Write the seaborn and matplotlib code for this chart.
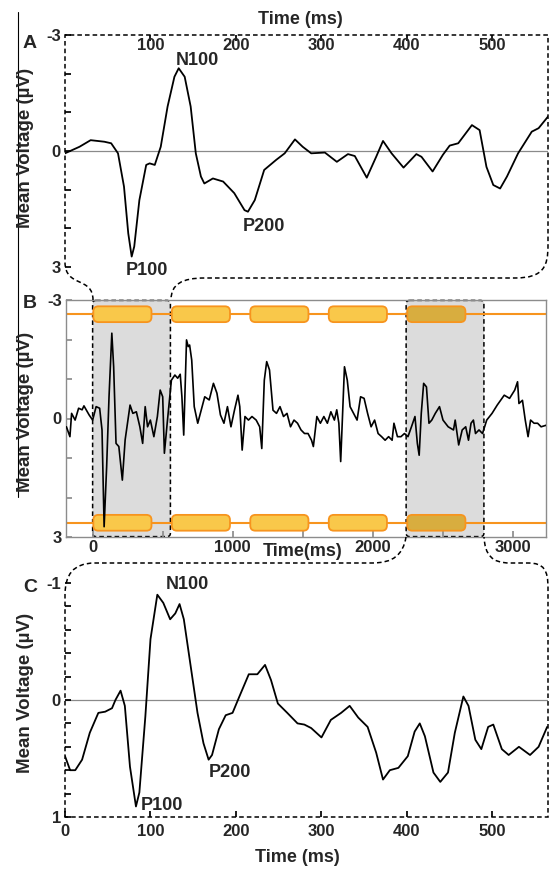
import matplotlib
matplotlib.use("Agg")
import numpy as np
import matplotlib.pyplot as plt
import seaborn as sns
from matplotlib.path import Path
from matplotlib.patches import PathPatch, FancyBboxPatch
from matplotlib.lines import Line2D

# panel A: averaged ERP, first stimulus window (ms, uV)
a_time = [0, 17, 30, 46, 54, 62, 69, 74, 78, 81, 87, 95, 99, 105, 112, 120, 128, 133, 140, 147,
          153, 159, 163, 173, 185, 198, 210, 214, 222, 233, 247, 257, 269, 278, 288, 304, 318, 331, 339, 353,
          364, 372, 382, 396, 411, 417, 430, 442, 450, 460, 476, 485, 493, 501, 509, 517, 530, 546, 554, 565]
a_volt = [0.06, -0.11, -0.28, -0.24, -0.2, 0.06, 0.92, 2.13, 2.73, 2.47, 1.27, 0.36, 0.32, 0.36, -0.11,
          -1.15, -1.92, -2.14, -1.92, -1.15, 0.06, 0.66, 0.84, 0.71, 0.79, 1.09, 1.53, 1.57, 1.27, 0.49,
          0.23, 0.06, -0.3, -0.11, 0.06, 0.04, 0.28, 0.08, 0.13, 0.69, 0.15, -0.26, 0.06, 0.43, 0.08,
          0.15, 0.53, 0.1, -0.14, -0.2, -0.67, -0.54, 0.41, 0.88, 0.97, 0.66, 0.06, -0.5, -0.59, -0.89]

# panel B: continuous trace with stimulus train
b_time = [-187, -162, -150, -125, -100, -75, -62, -25, 0, 25,
          50, 67, 82, 100, 117, 137, 150, 167, 187, 212,
          232, 267, 287, 312, 337, 357, 375, 392, 412, 437,
          462, 482, 500, 512, 532, 562, 587, 607, 625, 637,
          650, 670, 682, 692, 707, 725, 750, 775, 800, 832,
          862, 887, 912, 937, 962, 987, 1012, 1037, 1050, 1067,
          1087, 1112, 1137, 1167, 1192, 1207, 1225, 1242, 1262, 1287,
          1312, 1337, 1362, 1387, 1412, 1437, 1462, 1487, 1512, 1537,
          1562, 1575, 1600, 1625, 1650, 1675, 1700, 1725, 1742, 1757,
          1770, 1782, 1797, 1817, 1837, 1862, 1887, 1912, 1937, 1962,
          1987, 2012, 2037, 2062, 2087, 2112, 2137, 2150, 2175, 2200,
          2225, 2250, 2275, 2300, 2317, 2330, 2345, 2362, 2382, 2400,
          2420, 2445, 2475, 2500, 2537, 2575, 2587, 2612, 2637, 2662,
          2682, 2700, 2717, 2732, 2757, 2782, 2812, 2850, 2887, 2937,
          2975, 3012, 3032, 3042, 3067, 3087, 3107, 3125, 3150, 3175,
          3200, 3237]
b_volt = [0.21, 0.46, -0.13, 0.04, -0.26, -0.22, -0.32, -0.09, 0.04, -0.3,
          -0.26, 0.29, 2.74, 1.22, -0.55, -2.16, -1.31, 0.63, 0.71, 1.56,
          0.54, -0.34, -0.13, -0.17, 0.21, 0.63, -0.3, 0.21, 0.04, 0.46,
          -0.05, -0.72, -0.55, 0.88, 0.12, -0.97, -1.1, -1.02, -1.12, -0.55,
          0.42, -1.99, -1.82, -1.86, -1.48, -0.3, 0.12, -0.21, -0.55, -0.47,
          -0.89, -0.64, -0.09, 0.12, -0.3, 0.21, -0.21, -0.59, -0.3, 0.8,
          -0.05, 0.04, -0.05, 0.04, 0.21, 0.76, -0.97, -1.44, -1.23, -0.21,
          -0.13, -0.3, -0.05, -0.13, 0.21, 0.04, 0.12, 0.29, 0.38, 0.38,
          0.55, 0.71, -0.05, 0.12, -0.05, 0.12, -0.17, 0.04, -0.22, 0.12,
          1.09, 0.04, -1.31, -0.97, -0.3, -0.13, 0.04, -0.55, -0.51, -0.13,
          0.21, 0.04, 0.38, 0.46, 0.55, 0.46, 0.55, 0.12, 0.46, 0.46,
          0.38, 0.46, 0.21, -0.05, 0.63, 0.93, -0.13, -0.89, -0.8, 0.12,
          0.04, -0.13, -0.3, 0.04, 0.21, 0.29, 0.04, 0.67, 0.29, 0.21,
          0.55, 0.12, 0.04, 0.38, 0.29, 0.38, 0.04, -0.13, -0.34, -0.59,
          -0.51, -0.72, -0.93, -0.38, -0.46, 0.04, 0.46, 0.04, 0.12, 0.12,
          0.21, 0.17]
stim_onsets = [5, 565, 1125, 1685, 2245]
stim_length = 415
stim_level = 2.64
windows = [(0, 555), (2237, 2792)]

# panel C: averaged ERP, later stimulus window
c_time = [0, 6, 12, 20, 29, 39, 47, 55, 59, 65, 70, 76, 83, 87, 94, 100, 108, 115, 123, 129,
          134, 139, 147, 155, 162, 168, 172, 180, 188, 196, 204, 215, 225, 234, 241, 249, 260, 272, 280, 288,
          300, 311, 323, 333, 343, 354, 364, 372, 380, 390, 401, 409, 415, 421, 431, 439, 448, 456, 466, 472,
          480, 487, 495, 501, 511, 519, 531, 544, 554, 564]
c_volt = [0.48, 0.6, 0.6, 0.51, 0.28, 0.11, 0.1, 0.07, 0.0, -0.08, 0.05, 0.57, 0.91, 0.79, 0.14,
          -0.52, -0.9, -0.83, -0.69, -0.74, -0.82, -0.69, -0.29, 0.11, 0.37, 0.51, 0.47, 0.25, 0.13, 0.11,
          -0.03, -0.22, -0.22, -0.3, -0.17, 0.03, 0.11, 0.2, 0.21, 0.24, 0.32, 0.17, 0.11, 0.05, 0.15,
          0.23, 0.45, 0.68, 0.6, 0.58, 0.48, 0.27, 0.2, 0.31, 0.62, 0.7, 0.62, 0.28, -0.03, 0.05,
          0.34, 0.42, 0.23, 0.21, 0.42, 0.47, 0.4, 0.47, 0.4, 0.23]

W, H = 549, 869
ORANGE = "#f7941e"
BOX = "#f9c84a"
BOX_SHADED = "#d8ad3f"
SHADE = "#dcdcdc"
DASH = (0, (3, 2))

sns.set_theme(style="white")
plt.rcParams["font.family"] = ["Liberation Sans", "DejaVu Sans"]
plt.rcParams["font.weight"] = "bold"

fig = plt.figure(figsize=(W / 100, H / 100), dpi=100)


def px(x, y):
    return x / W, 1 - y / H


def add_ax(left, top, right, bottom):
    return fig.add_axes([left / W, 1 - bottom / H, (right - left) / W, (bottom - top) / H])


def outline(ops):
    verts, codes = [], []
    for code, pts in ops:
        for p in pts:
            verts.append(px(*p))
            codes.append(code)
    return PathPatch(Path(verts, codes), transform=fig.transFigure, fill=False,
                     ec="black", lw=1.1, ls=DASH)


ax_a = add_ax(65, 35, 548, 267)
ax_b = add_ax(66, 300, 546, 537)
ax_c = add_ax(65, 583, 548, 817)

# ---- A ----
sns.lineplot(x=a_time, y=a_volt, ax=ax_a, color="black", linewidth=1.3, sort=False)
ax_a.axhline(0, color="#8a8a8a", lw=0.9, zorder=0)
ax_a.set_xlim(0, 565)
ax_a.set_ylim(3, -3)
ax_a.set_xticks(range(100, 501, 100))
ax_a.set_yticks(range(-3, 4))
ax_a.set_yticklabels(["-3", "", "", "0", "", "", "3"])
ax_a.tick_params(axis="x", top=True, bottom=False, labeltop=True, labelbottom=False,
                 direction="in", pad=-13, length=4, color="black", labelsize=12)
ax_a.tick_params(axis="y", left=True, direction="in", length=4, pad=3, color="black", labelsize=12)
for txt, x, y in [("N100", 155, -2.35), ("P100", 96, 3.08), ("P200", 233, 1.94)]:
    ax_a.text(x, y, txt, ha="center", va="center", fontsize=13, fontweight="bold", clip_on=False)

# ---- B ----
ax_b.axhline(-stim_level, color=ORANGE, lw=1.5, zorder=1)
ax_b.axhline(stim_level, color=ORANGE, lw=1.5, zorder=1)
asp = (480 / 3425) / (237 / 6)
for x0, x1 in windows:
    ax_b.add_patch(FancyBboxPatch((x0, -2.99), x1 - x0, 5.98, boxstyle="round,pad=0,rounding_size=25",
                                  mutation_aspect=asp, fc=SHADE, ec="black", lw=1.1, ls=DASH,
                                  zorder=0.5, clip_on=False))
for onset in stim_onsets:
    shaded = windows[1][0] <= onset <= windows[1][1]
    for yc in (-stim_level, stim_level):
        ax_b.add_patch(FancyBboxPatch((onset, yc - 0.2), stim_length, 0.4,
                                      boxstyle="round,pad=0,rounding_size=36", mutation_aspect=asp,
                                      fc=BOX_SHADED if shaded else BOX, ec=ORANGE, lw=1.3, zorder=2))
sns.lineplot(x=b_time, y=b_volt, ax=ax_b, color="black", linewidth=1.2, sort=False, zorder=4)
ax_b.set_xlim(-190, 3235)
ax_b.set_ylim(3, -3)
ax_b.set_xticks(range(0, 3001, 500))
ax_b.set_xticklabels(["0", "", "1000", "", "2000", "", "3000"])
ax_b.set_yticks(range(-3, 4))
ax_b.set_yticklabels(["-3", "", "", "0", "", "", "3"])
ax_b.tick_params(axis="both", bottom=True, left=True, direction="in", length=4,
                 color="#8c8c8c", labelsize=12)
ax_b.tick_params(axis="x", pad=2)
ax_b.tick_params(axis="y", pad=3)
for s in ax_b.spines.values():
    s.set_color("#8c8c8c")
    s.set_linewidth(1.0)

# ---- C ----
sns.lineplot(x=c_time, y=c_volt, ax=ax_c, color="black", linewidth=1.3, sort=False)
ax_c.axhline(0, color="#8a8a8a", lw=0.9, zorder=0)
ax_c.set_xlim(0, 565)
ax_c.set_ylim(1, -1)
ax_c.set_xticks(range(0, 501, 100))
ax_c.set_yticks(np.round(np.arange(-1, 1.01, 0.2), 1))
ax_c.set_yticklabels(["-1", "", "", "", "", "0", "", "", "", "", "1"])
ax_c.tick_params(axis="x", bottom=True, direction="in", pad=5, length=4, color="black", labelsize=12)
ax_c.tick_params(axis="y", left=True, direction="in", length=4, pad=3, color="black", labelsize=12)
for txt, x, y in [("N100", 143, -0.99), ("P100", 113, 0.9), ("P200", 193, 0.62)]:
    ax_c.text(x, y, txt, ha="center", va="center", fontsize=13, fontweight="bold", clip_on=False)

for ax in (ax_a, ax_c):
    for s in ax.spines.values():
        s.set_visible(False)
for ax in (ax_a, ax_b, ax_c):
    ax.set_xlabel("")
    ax.set_ylabel("")
    ax.patch.set_alpha(0)

# zoom callouts (figure pixels)
fig.add_artist(outline([
    (Path.MOVETO, [(93, 300)]),
    (Path.CURVE4, [(93, 276), (65, 288), (65, 262)]),
    (Path.LINETO, [(65, 35)]),
    (Path.LINETO, [(548, 35)]),
    (Path.LINETO, [(548, 245)]),
    (Path.CURVE4, [(548, 266), (544, 278), (515, 278)]),
    (Path.LINETO, [(205, 278)]),
    (Path.CURVE4, [(182, 278), (171, 284), (171, 300)]),
]))
fig.add_artist(outline([
    (Path.MOVETO, [(406, 537)]),
    (Path.CURVE4, [(403, 555), (393, 563), (372, 563)]),
    (Path.LINETO, [(95, 563)]),
    (Path.CURVE4, [(73, 563), (65, 575), (65, 595)]),
    (Path.LINETO, [(65, 817)]),
    (Path.LINETO, [(548, 817)]),
    (Path.LINETO, [(548, 588)]),
    (Path.CURVE4, [(548, 570), (544, 563), (528, 563)]),
    (Path.LINETO, [(510, 563)]),
    (Path.CURVE4, [(492, 563), (485, 555), (484, 537)]),
]))
fig.add_artist(Line2D([17.5 / W, 17.5 / W], [1 - 12 / H, 1 - 497 / H], transform=fig.transFigure,
                      color="black", lw=0.8))

# texts
for letter, y in [("A", 43), ("B", 303), ("C", 587)]:
    fig.text(*px(30, y), letter, ha="center", va="center", fontsize=14, fontweight="bold")
for y in (148, 412, 693):
    fig.text(*px(26, y), "Mean Voltage (µV)", rotation=90, ha="center", va="center",
             fontsize=13.5, fontweight="bold")
fig.text(*px(300, 19), "Time (ms)", ha="center", va="center", fontsize=13, fontweight="bold")
fig.text(*px(303, 551), "Time(ms)", ha="center", va="center", fontsize=13, fontweight="bold")
fig.text(*px(297, 857), "Time (ms)", ha="center", va="center", fontsize=13, fontweight="bold")

fig.savefig("out.png", dpi=100)
